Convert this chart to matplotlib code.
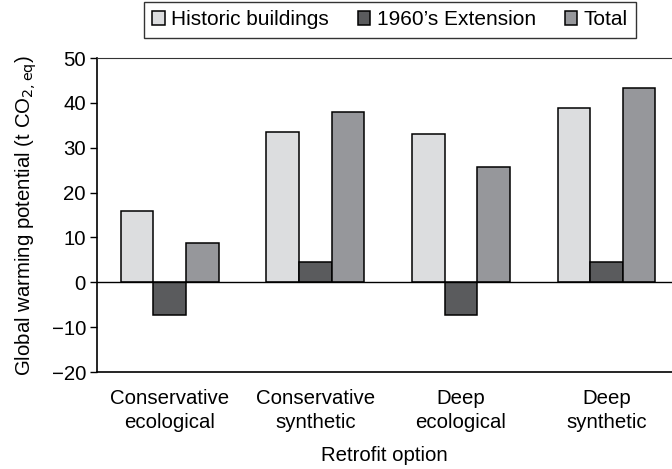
import matplotlib
matplotlib.use("Agg")
import matplotlib.pyplot as plt
import numpy as np

plt.rcParams["font.family"] = ["Liberation Sans", "DejaVu Sans"]

categories = ["Conservative\necological", "Conservative\nsynthetic", "Deep\necological", "Deep\nsynthetic"]
series_names = ["Historic buildings", "1960\u2019s Extension", "Total"]
historic = [16.0, 33.4, 33.0, 38.9]
extension = [-7.2, 4.6, -7.2, 4.6]
total = [8.8, 37.9, 25.8, 43.4]
colors = ["#dcdddf", "#5a5b5d", "#96979b"]

FS = 14.7

fig = plt.figure(figsize=(6.72, 4.69), dpi=100)
ax = fig.add_axes([97 / 672, 1 - 372 / 469, 1 - 97 / 672, (372 - 58) / 469])

x = np.arange(len(categories))
w = 0.224
for i, (vals, name) in enumerate(zip([historic, extension, total], series_names)):
    ax.bar(x + (i - 1) * w, vals, width=w, color=colors[i], edgecolor="black",
           linewidth=1.1, label=name, zorder=3)

ax.axhline(0, color="black", lw=1.0, zorder=4)
ax.set_xlim(-0.5, 3.45)
ax.set_ylim(-20, 50)
ax.set_yticks(range(-20, 51, 10))
ax.set_yticklabels(["\u221220", "\u221210"] + [str(v) for v in range(0, 51, 10)])
ax.set_xticks(x)
ax.set_xticklabels(categories, fontsize=FS, linespacing=1.35)
ax.tick_params(axis="x", length=0, pad=12)
ax.tick_params(axis="y", direction="out", length=5, labelsize=FS, width=1, pad=3)
ax.spines["right"].set_visible(False)
ax.spines["top"].set_color("#333333")
for s in ["left", "bottom"]:
    ax.spines[s].set_linewidth(1.2)

ax.set_ylabel("Global warming potential (t CO$_{2,\\mathrm{eq}}$)", fontsize=FS, labelpad=9)
ax.set_xlabel("Retrofit option", fontsize=FS, labelpad=10)

leg = fig.legend(loc="upper center", bbox_to_anchor=(390 / 672, 1 - 2 / 469), ncol=3,
                 fontsize=15, frameon=True, fancybox=False, handlelength=0.6,
                 handleheight=0.6, handletextpad=0.3, columnspacing=1.4,
                 borderpad=0.4, borderaxespad=0, edgecolor="black")
leg.get_frame().set_linewidth(1.0)

fig.savefig("out.png", dpi=100, facecolor="white")
